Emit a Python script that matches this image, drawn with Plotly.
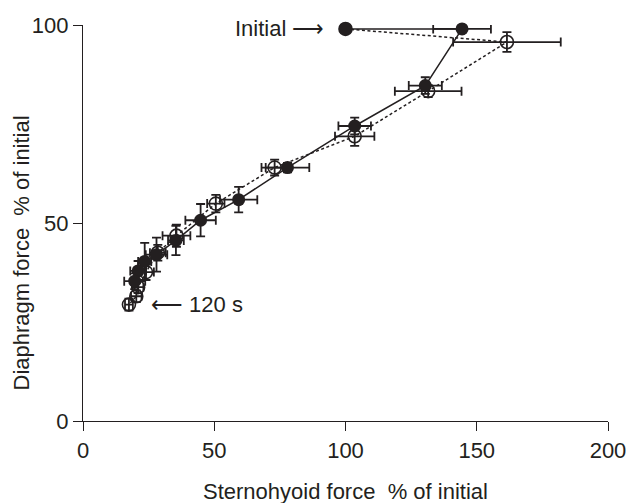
import plotly.graph_objects as go

# Filled circles (solid line)
filled_x = [100, 144.4, 130.4, 103.5, 77.9, 59.3, 44.8, 35.4, 28.0, 23.5, 21.0, 19.7]
filled_y = [99.0, 99.0, 84.7, 74.5, 64.0, 55.9, 50.7, 45.6, 42.0, 40.3, 37.9, 35.3]
filled_xerr = [0, 11, 6.3, 6.2, 8.3, 7.1, 5.8, 3.0, 4.1, 2.5, 3.0, 4.0]
filled_yerr = [0, 0, 2.1, 2.1, 1.2, 3.2, 4.1, 3.7, 4.3, 4.7, 2.5, 2.0]

# Open circles (dashed line)
open_x = [100, 161.5, 131.5, 103.5, 73.0, 50.6, 35.6, 28.5, 24.0, 21.0, 20.3, 17.5]
open_y = [99.0, 95.7, 83.3, 71.9, 64.0, 54.9, 46.8, 42.5, 37.6, 33.8, 31.5, 29.4]
open_xerr = [0, 20.5, 12.7, 7.5, 5.0, 3.3, 5.3, 3.0, 3.0, 2.0, 2.0, 1.5]
open_yerr = [0, 2.5, 1.5, 2.4, 2.0, 2.2, 2.8, 2.0, 2.0, 1.5, 1.5, 1.5]

x_ticks = [0, 50, 100, 150, 200]
y_ticks = [0, 50, 100]

FONT = "Liberation Sans, Arial, Helvetica, sans-serif"
INK = "#231f20"
TXT = 22

fig = go.Figure()

fig.add_trace(go.Scatter(
    x=open_x, y=open_y, mode="lines+markers",
    line=dict(color=INK, width=1.5, dash="3px,2.5px"),
    marker=dict(symbol="circle-open", size=13, color=INK, line=dict(width=1.6, color=INK)),
    error_x=dict(type="data", array=open_xerr, color=INK, thickness=1.8, width=4.5),
    error_y=dict(type="data", array=open_yerr, color=INK, thickness=1.8, width=4.5),
    showlegend=False, cliponaxis=False, hoverinfo="skip",
))

fig.add_trace(go.Scatter(
    x=filled_x, y=filled_y, mode="lines+markers",
    line=dict(color=INK, width=1.5),
    marker=dict(symbol="circle", size=13, color=INK),
    error_x=dict(type="data", array=filled_xerr, color=INK, thickness=1.8, width=4.5),
    error_y=dict(type="data", array=filled_yerr, color=INK, thickness=1.8, width=4.5),
    showlegend=False, cliponaxis=False, hoverinfo="skip",
))

fig.add_annotation(x=filled_x[0], y=filled_y[0], xref="x", yref="y",
                   text="Initial \u27f6", showarrow=False, xanchor="right",
                   xshift=-20, font=dict(family=FONT, size=TXT, color=INK))
fig.add_annotation(x=open_x[-1], y=open_y[-1], xref="x", yref="y",
                   text="\u27f5 120 s", showarrow=False, xanchor="left",
                   xshift=20, font=dict(family=FONT, size=TXT, color=INK))

fig.add_annotation(x=0.5, y=0, xref="paper", yref="paper", yshift=-70,
                   text="Sternohyoid force  % of initial", showarrow=False,
                   xanchor="center", yanchor="middle",
                   font=dict(family=FONT, size=TXT, color=INK))
fig.add_annotation(x=0, y=0.423, xref="paper", yref="paper", xshift=-62,
                   text="Diaphragm force  % of initial", showarrow=False,
                   textangle=-90, xanchor="center", yanchor="middle",
                   font=dict(family=FONT, size=TXT, color=INK))

axis_common = dict(showgrid=False, zeroline=False, showline=True, linecolor=INK,
                   linewidth=1.3, ticks="outside", ticklen=9, tickwidth=1.3,
                   tickcolor=INK, tickfont=dict(family=FONT, size=TXT, color=INK))

fig.update_xaxes(range=[0, 200], tickvals=x_ticks, ticktext=[str(v) for v in x_ticks], **axis_common)
fig.update_yaxes(range=[0, 100], tickvals=y_ticks, ticktext=[str(v) for v in y_ticks], **axis_common)

fig.update_layout(
    width=638, height=503,
    margin=dict(l=83, r=30, t=25, b=82),
    paper_bgcolor="white", plot_bgcolor="white",
    font=dict(family=FONT, color=INK),
)

fig.write_html("out.html", config={"displayModeBar": False},
               post_script="document.body.style.margin='0';")
